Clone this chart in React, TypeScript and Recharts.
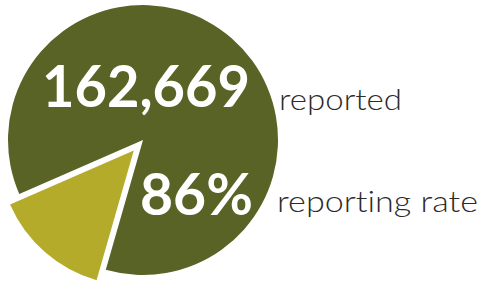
import { PieChart, Pie, Cell, Sector } from 'recharts';

const SLICE_NAMES = ['reported', 'not reported'];
const SLICE_VALUES = [86, 14];
const SLICE_COLORS = ['#5a6326', '#b5ab2a'];
const EXPLODED = [false, true];

const TOTAL_LABEL = '162,669';
const TOTAL_CAPTION = 'reported';
const RATE_LABEL = '86%';
const RATE_CAPTION = 'reporting rate';

const RADIAN = Math.PI / 180;
const EXPLODE_OFFSET = 14;

const data = SLICE_NAMES.map((name, i) => ({ name, value: SLICE_VALUES[i], exploded: EXPLODED[i] }));

function SliceShape(props: any) {
  const { cx, cy, midAngle, payload } = props;
  if (!payload?.exploded) return <Sector {...props} />;
  const dx = EXPLODE_OFFSET * Math.cos(-midAngle * RADIAN);
  const dy = EXPLODE_OFFSET * Math.sin(-midAngle * RADIAN);
  return <Sector {...props} cx={cx + dx} cy={cy + dy} />;
}

const NUM_STYLE = { fill: '#ffffff', fontFamily: 'Lato, sans-serif', fontWeight: 700, fontSize: 57 };
const CAPTION_STYLE = {
  fill: '#2b2b2b', fontFamily: 'Lato, sans-serif', fontWeight: 300, fontSize: 29,
  fontVariantLigatures: 'none' as const,
};

export default function App() {
  return (
    <div style={{ position: 'absolute', left: 0, top: 0, width: 479, height: 282, background: '#ffffff' }}>
      <PieChart width={479} height={282} margin={{ top: 0, right: 0, bottom: 0, left: 0 }}>
        <Pie
          data={data}
          dataKey="value"
          nameKey="name"
          cx={143}
          cy={140}
          innerRadius={0}
          outerRadius={135}
          startAngle={254}
          endAngle={614}
          stroke="none"
          shape={SliceShape}
          isAnimationActive={false}
        >
          {data.map((d, i) => (
            <Cell key={d.name} fill={SLICE_COLORS[i]} />
          ))}
        </Pie>
      </PieChart>
      {/* labels drawn on top of the pie */}
      <svg width={479} height={282} style={{ position: 'absolute', left: 0, top: 0, pointerEvents: 'none' }}>
        <text x={42} y={107} style={NUM_STYLE} textLength={208} lengthAdjust="spacingAndGlyphs">{TOTAL_LABEL}</text>
        <text x={140} y={215} style={NUM_STYLE} textLength={113} lengthAdjust="spacingAndGlyphs">{RATE_LABEL}</text>
        <text x={279} y={110} style={CAPTION_STYLE} textLength={123} lengthAdjust="spacingAndGlyphs">{TOTAL_CAPTION}</text>
        <text x={277} y={212} style={CAPTION_STYLE} textLength={201} lengthAdjust="spacingAndGlyphs">{RATE_CAPTION}</text>
      </svg>
    </div>
  );
}
